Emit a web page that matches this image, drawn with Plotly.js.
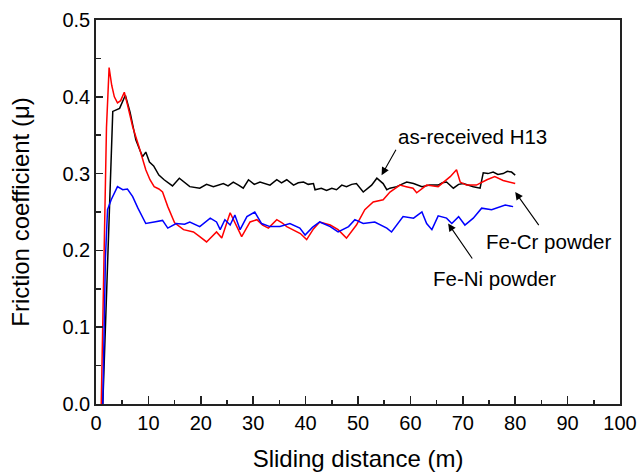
<!DOCTYPE html>
<html>
<head>
<meta charset="utf-8">
<script src="https://cdn.plot.ly/plotly-3.0.1.min.js"></script>
<style>html,body{margin:0;padding:0;background:#fff;}#chart{width:638px;height:472px;}</style>
</head>
<body>
<div id="chart"></div>
<script>
// as-received H13 (black)
const h13X = [1.3, 3.2, 4.5, 5.6, 6.5, 7.6, 8.4, 8.9, 9.5, 10.2, 11.0, 12.0, 13.0, 14.6, 15.9, 17.0, 17.9, 19.8, 21.1, 22.4, 24.3, 25.2, 26.2, 27.2, 28.1, 29.1, 30.2, 31.3, 32.2, 33.2, 34.5, 35.4, 36.4, 37.7, 38.6, 39.6, 40.5, 41.5, 41.8, 43.0, 44.0, 45.0, 45.9, 46.9, 47.8, 48.8, 49.7, 51.0, 52.6, 53.6, 54.8, 55.5, 56.1, 57.4, 58.3, 59.3, 60.6, 61.4, 62.2, 63.7, 65.3, 66.1, 66.9, 68.2, 69.2, 70.1, 71.0, 72.0, 73.3, 73.9, 74.8, 75.8, 76.7, 77.7, 78.5, 79.3, 80.0];
const h13Y = [0.000, 0.381, 0.385, 0.402, 0.380, 0.344, 0.330, 0.322, 0.328, 0.315, 0.310, 0.298, 0.292, 0.284, 0.294, 0.288, 0.283, 0.281, 0.286, 0.283, 0.287, 0.284, 0.289, 0.285, 0.281, 0.292, 0.286, 0.289, 0.287, 0.285, 0.292, 0.288, 0.292, 0.285, 0.288, 0.289, 0.286, 0.287, 0.279, 0.281, 0.278, 0.281, 0.279, 0.285, 0.283, 0.286, 0.287, 0.276, 0.285, 0.294, 0.287, 0.279, 0.281, 0.283, 0.286, 0.289, 0.287, 0.285, 0.283, 0.285, 0.285, 0.288, 0.289, 0.281, 0.286, 0.287, 0.285, 0.283, 0.281, 0.301, 0.300, 0.302, 0.299, 0.300, 0.303, 0.302, 0.298];

// Fe-Cr powder (red)
const crX = [1.0, 1.6, 2.0, 2.5, 3.0, 3.5, 4.1, 4.7, 5.4, 6.0, 7.0, 8.2, 9.0, 9.5, 10.3, 11.1, 12.0, 12.7, 13.7, 15.0, 16.7, 18.6, 19.8, 21.1, 23.0, 24.0, 25.6, 26.8, 27.8, 29.4, 30.7, 31.8, 32.9, 34.5, 35.5, 36.4, 37.7, 39.0, 40.2, 41.5, 42.7, 44.7, 46.2, 47.8, 49.7, 51.3, 52.9, 54.8, 56.1, 58.0, 59.2, 60.5, 61.2, 63.1, 65.3, 66.5, 67.6, 68.8, 69.5, 70.7, 72.6, 74.6, 76.1, 77.7, 79.6, 80.0];
const crY = [0.000, 0.190, 0.360, 0.438, 0.415, 0.400, 0.392, 0.395, 0.406, 0.390, 0.361, 0.335, 0.318, 0.305, 0.292, 0.283, 0.280, 0.276, 0.257, 0.236, 0.227, 0.224, 0.218, 0.211, 0.224, 0.216, 0.249, 0.231, 0.218, 0.237, 0.240, 0.233, 0.229, 0.240, 0.236, 0.231, 0.227, 0.222, 0.214, 0.228, 0.237, 0.233, 0.227, 0.216, 0.233, 0.253, 0.263, 0.266, 0.276, 0.285, 0.283, 0.281, 0.275, 0.285, 0.283, 0.290, 0.296, 0.305, 0.289, 0.285, 0.285, 0.292, 0.296, 0.291, 0.287, 0.287];

// Fe-Ni powder (blue)
const niX = [1.3, 1.8, 2.2, 2.9, 4.1, 5.1, 6.0, 7.0, 8.0, 9.5, 11.1, 12.7, 13.7, 15.3, 16.9, 17.9, 19.8, 21.8, 23.0, 23.7, 24.6, 25.6, 26.5, 27.5, 28.8, 30.3, 31.6, 33.2, 35.1, 37.0, 38.9, 39.9, 41.3, 42.7, 44.7, 46.2, 48.2, 49.4, 51.0, 53.2, 55.5, 56.4, 58.6, 60.6, 62.2, 63.1, 64.1, 65.3, 66.9, 67.9, 69.2, 70.4, 72.0, 73.6, 75.5, 77.1, 78.1, 79.6];
const niY = [0.000, 0.190, 0.253, 0.266, 0.283, 0.279, 0.280, 0.270, 0.255, 0.235, 0.237, 0.239, 0.229, 0.235, 0.234, 0.237, 0.231, 0.242, 0.237, 0.227, 0.240, 0.233, 0.246, 0.227, 0.244, 0.250, 0.235, 0.231, 0.231, 0.235, 0.229, 0.220, 0.230, 0.237, 0.231, 0.224, 0.231, 0.240, 0.235, 0.237, 0.229, 0.224, 0.244, 0.242, 0.250, 0.235, 0.227, 0.245, 0.242, 0.235, 0.244, 0.233, 0.242, 0.255, 0.253, 0.257, 0.259, 0.257];

const xTicks = [0, 10, 20, 30, 40, 50, 60, 70, 80, 90, 100];
const yTicks = [0.0, 0.1, 0.2, 0.3, 0.4, 0.5];

const FONT = 'Arial, "Liberation Sans", sans-serif';

const traces = [
  {x: h13X, y: h13Y, mode: 'lines', line: {color: '#000000', width: 1.5}, name: 'as-received H13'},
  {x: crX, y: crY, mode: 'lines', line: {color: '#ff0000', width: 1.5}, name: 'Fe-Cr powder'},
  {x: niX, y: niY, mode: 'lines', line: {color: '#0000ff', width: 1.5}, name: 'Fe-Ni powder'}
];

function arrow(hx, hy, tx, ty) {
  return {x: hx, y: hy, ax: tx, ay: ty, xref: 'x', yref: 'y', axref: 'x', ayref: 'y',
    text: '', showarrow: true, arrowhead: 2, arrowsize: 1.4, arrowwidth: 1.1, arrowcolor: '#000'};
}
function label(txt, x, y) {
  return {x: x, y: y, xref: 'x', yref: 'y', text: txt, showarrow: false,
    font: {family: FONT, size: 20.5, color: '#000'}};
}

const layout = {
  width: 638, height: 472,
  margin: {l: 96, r: 18, t: 20, b: 68},
  paper_bgcolor: '#fff', plot_bgcolor: '#fff',
  showlegend: false,
  font: {family: FONT, color: '#000'},
  xaxis: {
    range: [0, 100], tickvals: xTicks, ticktext: xTicks.map(String),
    ticks: 'inside', ticklen: 8, tickwidth: 1.5, tickcolor: '#222',
    minor: {dtick: 5, ticks: 'inside', ticklen: 4, tickwidth: 1.5, tickcolor: '#222'},
    showline: true, linecolor: '#222', linewidth: 1.8, mirror: true,
    showgrid: false, zeroline: false,
    tickfont: {family: FONT, size: 20, color: '#000'},
    title: {text: 'Sliding distance (m)', font: {family: FONT, size: 24, color: '#000'}, standoff: 17}
  },
  yaxis: {
    range: [0, 0.5], tickvals: yTicks, ticktext: yTicks.map(v => v.toFixed(1)),
    ticks: 'inside', ticklen: 7, tickwidth: 1.5, tickcolor: '#222',
    minor: {dtick: 0.05, ticks: 'inside', ticklen: 5, tickwidth: 1.5, tickcolor: '#222'},
    showline: true, linecolor: '#222', linewidth: 1.8, mirror: true,
    showgrid: false, zeroline: false,
    tickfont: {family: FONT, size: 20, color: '#000'},
    title: {text: 'Friction coefficient (μ)', font: {family: FONT, size: 24, color: '#000'}, standoff: 26}
  },
  annotations: [
    label('as-received H13', 71.8, 0.348),
    arrow(54.5, 0.298, 57.4, 0.333),
    label('Fe-Cr powder', 86.3, 0.211),
    arrow(80.0, 0.276, 84.7, 0.231),
    label('Fe-Ni powder', 76.0, 0.164),
    arrow(67.2, 0.235, 72.0, 0.1875)
  ]
};

Plotly.newPlot('chart', traces, layout, {displayModeBar: false, staticPlot: true});
</script>
</body>
</html>
